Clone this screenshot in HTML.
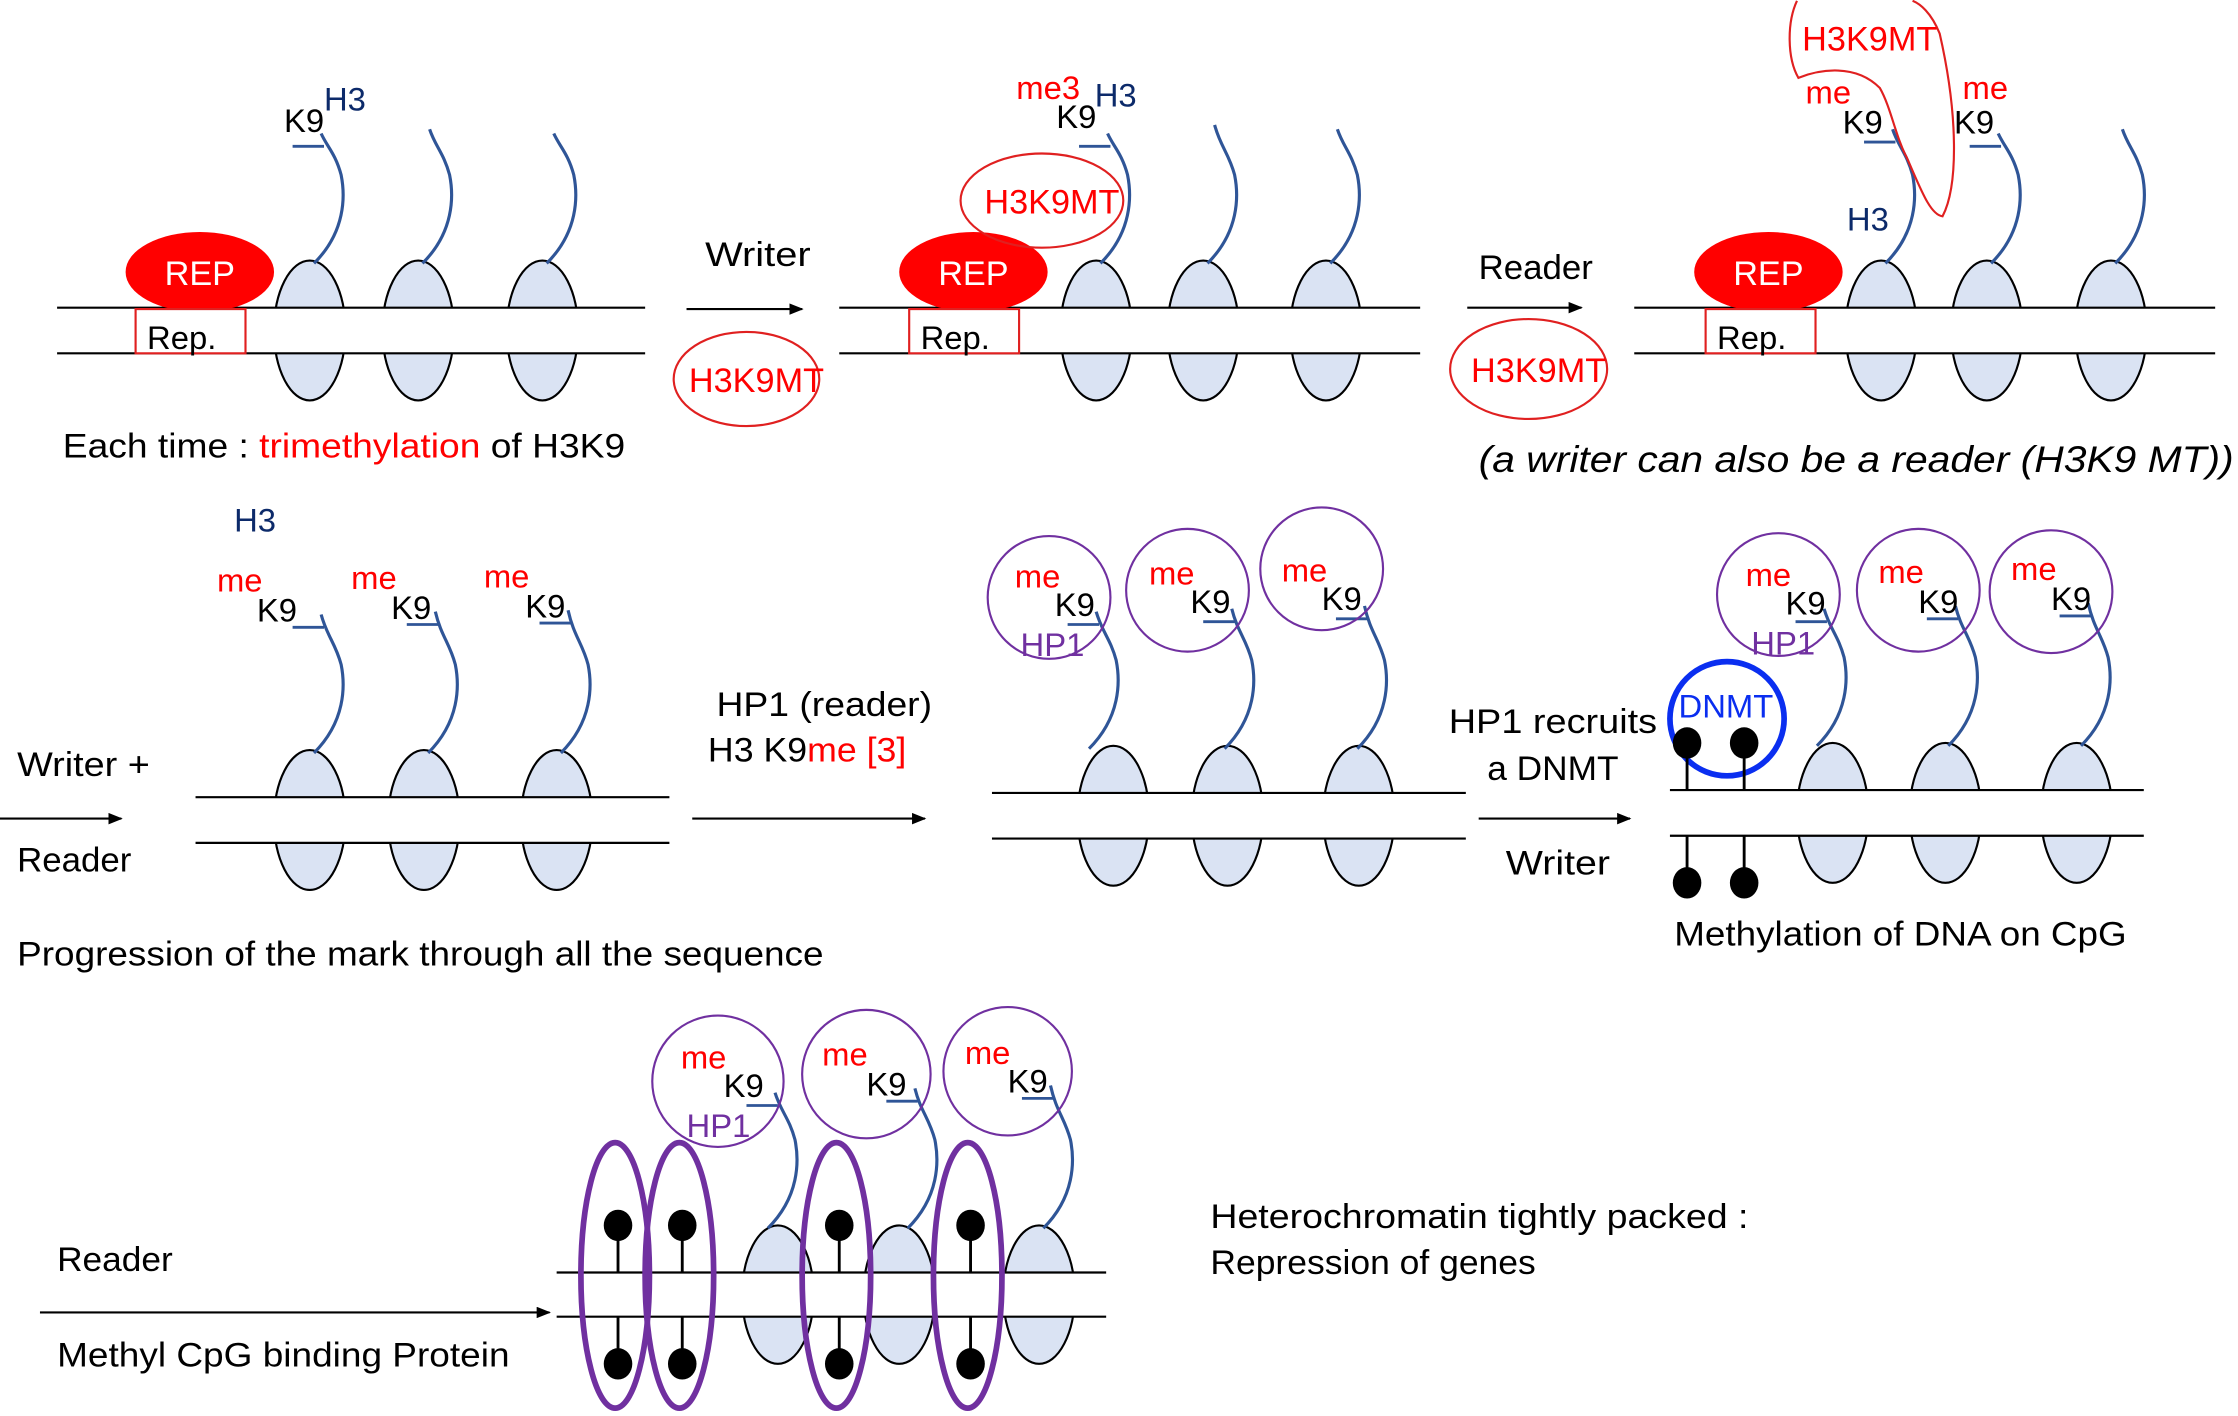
<!DOCTYPE html>
<html><head><meta charset="utf-8"><style>
html,body{margin:0;padding:0;background:#fff}
svg{display:block}
text{font-family:"Liberation Sans",sans-serif}
</style></head><body>
<svg id="s" width="2238" height="1416" viewBox="0 0 1568 991" xmlns="http://www.w3.org/2000/svg">
<defs><marker id="ar" markerWidth="10" markerHeight="8" refX="9" refY="4" orient="auto" markerUnits="userSpaceOnUse"><path d="M0,0 L10,4 L0,8 Z" fill="#000"/></marker></defs>
<g id="shapes"></g>
<g fill="#ff0000"><ellipse cx="140" cy="190" rx="52" ry="28"/><ellipse cx="682" cy="190" rx="52" ry="28"/><ellipse cx="1239" cy="190" rx="52" ry="28"/></g>
<g fill="#fff" stroke="#e02020" stroke-width="1.5"><rect x="95" y="216" width="77" height="31"/><rect x="637" y="216" width="77" height="31"/><rect x="1195" y="216" width="77" height="31"/></g>
<g font-size="24" fill="#fff" text-anchor="middle"><text x="140" y="199">REP</text><text x="682" y="199">REP</text><text x="1239" y="199">REP</text></g>
<g font-size="23" fill="#000"><text x="103" y="244">Rep.</text><text x="645" y="244">Rep.</text><text x="1203" y="244">Rep.</text></g>
<g fill="none" stroke="#e02020" stroke-width="1.5"><ellipse cx="523" cy="265" rx="51" ry="33"/><ellipse cx="730" cy="140" rx="57" ry="33"/><ellipse cx="1071" cy="258" rx="55" ry="35"/>
<path d="M1259,0 C1252,15 1252,40 1260,54 C1275,48 1300,44 1317,61 C1325,75 1328,95 1336,110 C1345,130 1352,150 1361,151 C1372,130 1372,80 1359,23 C1353,8 1345,2 1340,0"/></g>
<g font-size="24" fill="#f00" text-anchor="middle"><text x="530" y="274">H3K9MT</text><text x="737" y="149">H3K9MT</text><text x="1078" y="267">H3K9MT</text><text x="1310" y="35">H3K9MT</text></g>
<g stroke="#000" stroke-width="1.5" marker-end="url(#ar)"><line x1="481" y1="216" x2="562" y2="216"/><line x1="1028" y1="215" x2="1108" y2="215"/><line x1="0" y1="573" x2="85" y2="573"/><line x1="485" y1="573" x2="648" y2="573"/><line x1="1036" y1="573" x2="1142" y2="573"/><line x1="28" y1="919" x2="385" y2="919"/></g>
<g font-size="24" fill="#000" lengthAdjust="spacingAndGlyphs">
<text x="494" y="186" textLength="74" lengthAdjust="spacingAndGlyphs">Writer</text><text x="1036" y="195" textLength="80" lengthAdjust="spacingAndGlyphs">Reader</text>
<text x="44" y="320" textLength="394" lengthAdjust="spacingAndGlyphs">Each time : <tspan fill="#f00">trimethylation</tspan> of H3K9</text>
<text x="1036" y="330" font-style="italic" font-size="26" textLength="529" lengthAdjust="spacingAndGlyphs">(a writer can also be a reader (H3K9 MT))</text>
<text x="12" y="543" textLength="93" lengthAdjust="spacingAndGlyphs">Writer +</text><text x="12" y="610" textLength="80" lengthAdjust="spacingAndGlyphs">Reader</text>
<text x="502" y="501" textLength="151" lengthAdjust="spacingAndGlyphs">HP1  (reader)</text><text x="496" y="533" textLength="139" lengthAdjust="spacingAndGlyphs">H3 K9<tspan fill="#f00">me [3]</tspan></text>
<text x="1015" y="513" textLength="146" lengthAdjust="spacingAndGlyphs">HP1  recruits</text><text x="1042" y="546" textLength="92" lengthAdjust="spacingAndGlyphs">a DNMT</text><text x="1055" y="612" textLength="73" lengthAdjust="spacingAndGlyphs">Writer</text>
<text x="12" y="676" textLength="565" lengthAdjust="spacingAndGlyphs">Progression of the mark through all the sequence</text>
<text x="1173" y="662" textLength="317" lengthAdjust="spacingAndGlyphs">Methylation of DNA on CpG</text>
<text x="40" y="890" textLength="81" lengthAdjust="spacingAndGlyphs">Reader</text><text x="40" y="957" textLength="317" lengthAdjust="spacingAndGlyphs">Methyl CpG binding Protein</text>
<text x="848" y="860" textLength="377" lengthAdjust="spacingAndGlyphs">Heterochromatin tightly packed :</text><text x="848" y="892" textLength="228" lengthAdjust="spacingAndGlyphs">Repression of genes</text>
</g>
<g font-size="23" fill="#000">
<text x="199" y="92">K9</text><text x="740" y="89">K9</text><text x="1291" y="93">K9</text><text x="1369" y="93">K9</text>
<text x="180" y="435">K9</text><text x="274" y="433">K9</text><text x="368" y="432">K9</text>
<text x="739" y="431">K9</text><text x="834" y="429">K9</text><text x="926" y="427">K9</text>
<text x="1251" y="430">K9</text><text x="1344" y="429">K9</text><text x="1437" y="427">K9</text>
<text x="507" y="768">K9</text><text x="607" y="767">K9</text><text x="706" y="765">K9</text>
</g>
<g font-size="23" fill="#0c2a6a"><text x="227" y="77">H3</text><text x="767" y="74">H3</text><text x="1294" y="161">H3</text><text x="164" y="372">H3</text></g>
<g font-size="23" fill="#f00"><text x="712" y="69">me3</text><text x="1265" y="72">me</text><text x="1375" y="69">me</text>
<text x="152" y="414">me</text><text x="246" y="412">me</text><text x="339" y="411">me</text>
<text x="711" y="411">me</text><text x="805" y="409">me</text><text x="898" y="407">me</text>
<text x="1223" y="410">me</text><text x="1316" y="408">me</text><text x="1409" y="406">me</text>
<text x="477" y="748">me</text><text x="576" y="746">me</text><text x="676" y="745">me</text></g>
<g font-size="23" fill="#7030a0"><text x="715" y="459">HP1</text><text x="1227" y="458">HP1</text><text x="481" y="796">HP1</text></g>
<g fill="none" stroke="#7030a0" stroke-width="1.5"><circle cx="735" cy="418" r="43"/><circle cx="832" cy="413" r="43"/><circle cx="926" cy="398" r="43"/>
<circle cx="1246" cy="416" r="43"/><circle cx="1344" cy="413" r="43"/><circle cx="1437" cy="414" r="43"/>
<circle cx="503" cy="757" r="46"/><circle cx="607" cy="752" r="45"/><circle cx="706" cy="750" r="45"/></g>
<circle cx="1210" cy="503" r="40" fill="none" stroke="#0a2ef0" stroke-width="4"/>
<text x="1176" y="502" font-size="23" fill="#0a2ef0">DNMT</text>
<g id="over"></g>
</svg>
<script>
var NS="http://www.w3.org/2000/svg";
function el(p,t,a){var e=document.createElementNS(NS,t);for(var k in a)e.setAttribute(k,a[k]);p.appendChild(e);return e;}
var S=document.getElementById('shapes'),O=document.getElementById('over');
function dna(x1,x2,y1,y2,nucs,tails){
  nucs.forEach(function(cx){el(S,'ellipse',{cx:cx,cy:(y1+y2)/2,rx:25,ry:(y2-y1)/2+33,fill:'#dae3f3',stroke:'#000','stroke-width':1.5});});
  el(S,'rect',{x:x1,y:y1,width:x2-x1,height:y2-y1,fill:'#fff'});
  el(S,'line',{x1:x1,y1:y1,x2:x2,y2:y1,stroke:'#000','stroke-width':1.5});
  el(S,'line',{x1:x1,y1:y2,x2:x2,y2:y2,stroke:'#000','stroke-width':1.5});
  tails.forEach(function(t){var cx=t[0],top=y1-33;
    el(S,'path',{d:'M'+(cx+3)+','+(top+2)+' C'+(cx+25)+','+(top-20)+' '+(cx+25)+','+(top-45)+' '+(cx+22)+','+(top-60)+' C'+(cx+18)+','+(top-75)+' '+(cx+12)+','+(top-80)+' '+(cx+8)+','+t[1],fill:'none',stroke:'#2f5597','stroke-width':2.2});
    if(t[2])el(S,'line',{x1:cx-12,y1:t[1]+9,x2:cx+10,y2:t[1]+9,stroke:'#2f5597','stroke-width':2});
  });
}
dna(40,452,215,247,[217,293,380],[[217,93,1],[293,90,0],[380,93,0]]);
dna(588,995,215,247,[768,843,929],[[768,93,1],[843,87,0],[929,90,0]]);
dna(1145,1552,215,247,[1318,1392,1479],[[1318,90,1],[1392,93,1],[1479,90,0]]);
dna(137,469,558,590,[217,297,390],[[217,430,1],[297,428,1],[390,427,1]]);
dna(695,1027,555,587,[780,860,952],[[760,428,1],[855,426,1],[948,424,1]]);
dna(1170,1502,553,585,[1284,1363,1455],[[1270,426,1],[1362,424,1],[1455,422,1]]);
dna(390,775,891,922,[545,630,728],[[535,765,1],[633,762,1],[728,760,1]]);
function lol(x,y,up){var by=up?y-30:y+30;el(O,'line',{x1:x,y1:y,x2:x,y2:by,stroke:'#000','stroke-width':2});el(O,'ellipse',{cx:x,cy:by+(up?-3:3),rx:10,ry:11,fill:'#000'});}
[1182,1222].forEach(function(x){lol(x,553,1);lol(x,585,0);});
[433,478,588,680].forEach(function(x){lol(x,891,1);lol(x,922,0);
  el(O,'ellipse',{cx:x-2,cy:893,rx:24,ry:93,fill:'none',stroke:'#7030a0','stroke-width':4});});
</script>
</body></html>
